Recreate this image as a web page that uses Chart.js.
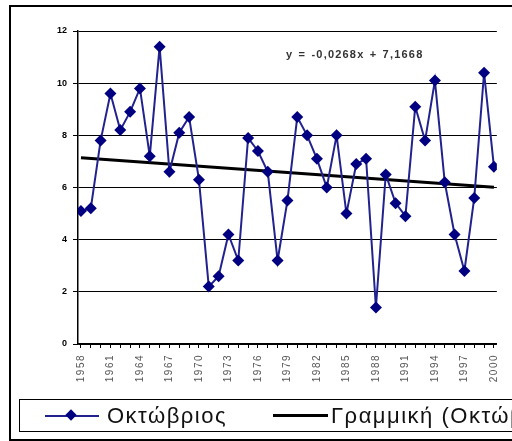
<!DOCTYPE html>
<html>
<head>
<meta charset="utf-8">
<script src="https://cdn.jsdelivr.net/npm/chart.js@4/dist/chart.umd.min.js"></script>
<style>
  html, body { margin: 0; padding: 0; background: #fff; }
  body { width: 512px; height: 441px; overflow: hidden; position: relative; font-family: "Liberation Sans", Arial, sans-serif; }
  #frame { position: absolute; left: 9px; top: 5px; width: 560px; height: 432px; border: 2px solid #000; }
  #wrap { position: absolute; left: 0; top: 0; width: 512px; height: 441px; }
  #eq { position: absolute; left: 286px; top: 48px; font-size: 11px; font-weight: bold; color: #333; white-space: nowrap; letter-spacing: 1.2px; word-spacing: 1px; }
  #legend { position: absolute; left: 19px; top: 399px; width: 560px; height: 31px; border: 1.5px solid #000; white-space: nowrap; }
  .item { position: absolute; top: 0; height: 31px; line-height: 31px; font-size: 22px; letter-spacing: 1.5px; color: #111; }
  .sym { position: absolute; top: 15px; }
</style>
</head>
<body>
<div id="frame"></div>
<div id="wrap"><canvas id="chart" width="512" height="441"></canvas></div>
<div id="eq">y = -0,0268x + 7,1668</div>
<div id="legend">
  <div class="sym" style="left:25px;width:54px;height:2px;background:#22228f;"></div>
  <div class="sym" style="left:47px;top:11px;width:8px;height:8px;background:#000080;transform:rotate(45deg);"></div>
  <div class="item" style="left:87px;">Οκτώβριος</div>
  <div class="sym" style="left:253px;top:14px;width:55px;height:3px;background:#000;"></div>
  <div class="item" style="left:311px;">Γραμμική (Οκτώβριος)</div>
</div>
<script>
// ==========================
// データ
// ==========================
const years = [];
for (let y = 1958; y <= 2000; y++) years.push(y);

const october = [
  5.1, 5.2, 7.8, 9.6, 8.2, 8.9, 9.8, 7.2, 11.4, 6.6,
  8.1, 8.7, 6.3, 2.2, 2.6, 4.2, 3.2, 7.9, 7.4, 6.6,
  3.2, 5.5, 8.7, 8.0, 7.1, 6.0, 8.0, 5.0, 6.9, 7.1,
  1.4, 6.5, 5.4, 4.9, 9.1, 7.8, 10.1, 6.2, 4.2, 2.8,
  5.6, 10.4, 6.8
];

// trend line end points
const trendYears = [1958, 2000];
const trendValues = [7.14, 6.01];

const yTicks = [0, 2, 4, 6, 8, 10, 12];

// x labels are drawn after the datasets (ticks.z = 1), widen them a little
const spacedLabels = {
  id: "spacedLabels",
  afterDatasetsDraw(chart) { chart.ctx.letterSpacing = "1.5px"; },
  afterDraw(chart) { chart.ctx.letterSpacing = "0px"; }
};

// ==========================
// グラフ
// ==========================
const ctx = document.getElementById("chart").getContext("2d");
new Chart(ctx, {
  type: "line",
  data: {
    datasets: [
      {
        label: "Γραμμική (Οκτώβριος)",
        data: trendYears.map((x, i) => ({ x, y: trendValues[i] })),
        borderColor: "#000",
        borderWidth: 3,
        pointRadius: 0,
        tension: 0,
        order: 2
      },
      {
        label: "Οκτώβριος",
        data: years.map((x, i) => ({ x, y: october[i] })),
        borderColor: "#22228f",
        borderWidth: 2,
        pointStyle: "rectRot",
        pointRadius: 6,
        pointBackgroundColor: "#000080",
        pointBorderColor: "#000080",
        pointBorderWidth: 0,
        tension: 0,
        order: 1
      }
    ]
  },
  options: {
    responsive: false,
    animation: false,
    layout: { padding: { left: 0, top: 31, right: 13, bottom: 0 } },
    plugins: { legend: { display: false }, tooltip: { enabled: false } },
    scales: {
      x: {
        type: "linear",
        min: 1957.7,
        max: 2000.3,
        afterBuildTicks: s => { s.ticks = years.map(v => ({ value: v })); },
        grid: { drawOnChartArea: false, drawTicks: true, tickLength: 4, color: "#000", lineWidth: 1 },
        border: { color: "#000", width: 1.5 },
        ticks: {
          z: 1,
          autoSkip: false,
          minRotation: 90,
          maxRotation: 90,
          padding: 6,
          color: "#555",
          font: { family: "'Liberation Sans', Arial", size: 10 },
          callback: v => ((v - 1958) % 3 === 0 ? String(v) : "")
        },
        afterFit: s => { s.height = 97; }
      },
      y: {
        min: 0,
        max: 12,
        afterBuildTicks: s => { s.ticks = yTicks.map(v => ({ value: v })); },
        grid: { color: "#000", lineWidth: 1, tickLength: 5 },
        border: { color: "#000", width: 1.5 },
        ticks: {
          padding: 6,
          color: "#000",
          font: { family: "'Liberation Sans', Arial", size: 9, weight: "bold" }
        },
        afterFit: s => { s.width = 78; }
      }
    }
  },
  plugins: [spacedLabels]
});
</script>
</body>
</html>
